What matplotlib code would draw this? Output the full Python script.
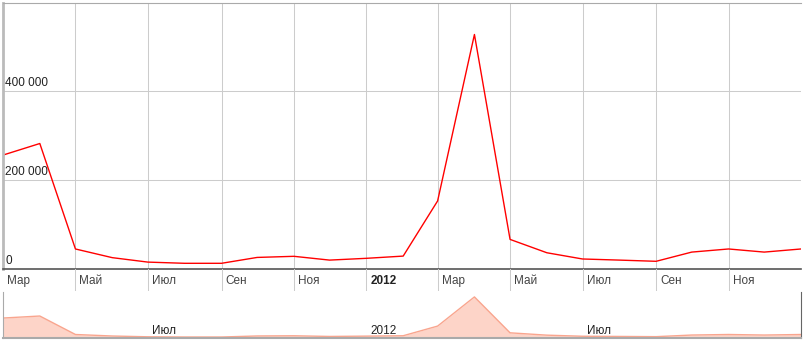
import numpy as np
import pandas as pd
import matplotlib
matplotlib.use("Agg")
import matplotlib.pyplot as plt
import matplotlib.transforms as mtransforms

plt.rcParams['font.family'] = ['Liberation Sans', 'DejaVu Sans']

# monthly values, Mar 2011 .. Jan 2013
months = pd.date_range("2011-03-01", "2013-01-01", freq="MS")
values = [256000, 282000, 45000, 25500, 15500, 12800, 12800, 26000, 28500,
          20000, 24000, 29000, 153000, 527000, 66500, 36500, 22500, 20000,
          17300, 38000, 45000, 38000, 45000]

tick_dates = pd.to_datetime(["2011-05-01", "2011-07-01", "2011-09-01",
                             "2011-11-01", "2012-01-01", "2012-03-01",
                             "2012-05-01", "2012-07-01", "2012-09-01",
                             "2012-11-01"])
tick_labels = ["Май", "Июл", "Сен", "Ноя", "2012", "Мар", "Май", "Июл",
               "Сен", "Ноя"]
first_label = "Мар"
y_ticks = [0, 200000, 400000]
y_labels = ["0", "200 000", "400 000"]
nav_dates = pd.to_datetime(["2011-07-01", "2012-01-01", "2012-07-01"])
nav_labels = ["Июл", "2012", "Июл"]

W, H = 805, 341
x0, x1 = pd.Timestamp("2011-03-01"), pd.Timestamp("2013-01-01")


def box(left, top, right, bottom):
    return [left / W, 1 - bottom / H, (right - left) / W, (bottom - top) / H]


fig = plt.figure(figsize=(W / 100, H / 100), dpi=100)

# main chart
ax = fig.add_axes(box(3, 3, 801, 269))
ax.plot(months, values, color="#ff0000", lw=1.0)
ax.set_xlim(x0, x1)
ax.set_ylim(0, 597750)
ax.set_xticks(tick_dates)
ax.set_yticks(y_ticks)
ax.grid(True, color="#cccccc", lw=0.75)
ax.tick_params(length=0, labelbottom=False, labelleft=False)
ax.spines["right"].set_visible(False)
ax.spines["top"].set_color("#aaaaaa")
ax.spines["left"].set_color("#bbbbbb")
ax.spines["left"].set_linewidth(2)
ax.spines["bottom"].set_color("#555555")
ax.spines["bottom"].set_linewidth(1.2)

ylab_tr = mtransforms.offset_copy(
    mtransforms.blended_transform_factory(ax.transAxes, ax.transData),
    fig=fig, x=2, y=2, units="dots")
for v, lab in zip(y_ticks, y_labels):
    ax.text(0, v, lab, transform=ylab_tr, fontsize=8.5, color="#222222",
            va="bottom", ha="left")

# tick label strip
strip = fig.add_axes(box(3, 269, 801, 291))
strip.set_xlim(x0, x1)
strip.set_ylim(0, 1)
strip.axis("off")
for d in tick_dates:
    strip.axvline(d, color="#cccccc", lw=0.75)
lab_off = mtransforms.offset_copy(strip.transData, fig=fig, x=4, y=0,
                                  units="dots")
strip.text(x0, 0.45, first_label, transform=lab_off, fontsize=8.5,
           color="#444444", va="center", ha="left")
for d, lab in zip(tick_dates, tick_labels):
    bold = lab.isdigit()
    strip.text(d, 0.45, lab, transform=lab_off, fontsize=8.5,
               color="#222222" if bold else "#444444",
               fontweight="bold" if bold else "normal",
               va="center", ha="left")

# navigator
nav = fig.add_axes(box(3, 292, 801, 338))
nav.fill_between(months, values, color="#fdd4c8", lw=0)
nav.plot(months, values, color="#f9a58e", lw=1)
nav.set_xlim(x0, x1)
nav.set_ylim(0, 590000)
nav.set_xticks([])
nav.set_yticks([])
nav.spines["top"].set_visible(False)
nav.spines["left"].set_color("#aaaaaa")
nav.spines["bottom"].set_color("#aaaaaa")
nav.spines["bottom"].set_linewidth(1.5)
nav.spines["right"].set_color("#666666")
nav_off = mtransforms.offset_copy(nav.transData, fig=fig, x=4, y=0,
                                  units="dots")
for d, lab in zip(nav_dates, nav_labels):
    nav.text(d, 95000, lab, transform=nav_off, fontsize=8.5,
             color="#222222", va="center", ha="left")

fig.savefig("out.png", dpi=100)
